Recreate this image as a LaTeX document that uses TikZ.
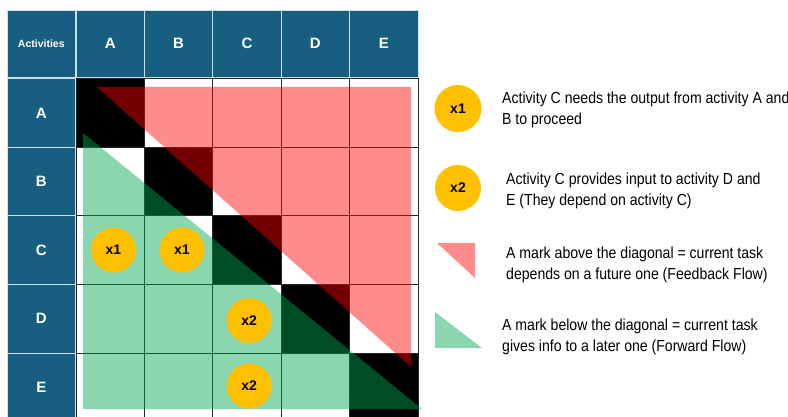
\documentclass[tikz,border=0pt]{standalone}
\usepackage{fontspec}
\setmainfont{Liberation Sans}
\newfontfamily\legendfont{Liberation Sans}[FakeStretch=0.88]
\usepackage{xcolor}

\definecolor{hdrblue}{RGB}{24,94,128}
\definecolor{hdrline}{RGB}{205,222,232}
\definecolor{markgold}{RGB}{255,192,0}
\definecolor{fwdgreen}{RGB}{0,167,80}

\begin{document}
\begin{tikzpicture}[x=1pt,y=-1pt,
	hdr/.style={rectangle, fill=hdrblue, draw=hdrline, line width=0.8pt, minimum width=68.4pt, minimum height=68.6pt, inner sep=0pt, text=white, font=\bfseries\fontsize{15}{15}\selectfont},
	dotmark/.style={circle, fill=markgold, minimum size=45pt, inner sep=0pt, font=\bfseries\fontsize{14}{14}\selectfont},
	legtext/.style={anchor=north west, inner sep=0pt, align=left, font=\legendfont\fontsize{16}{21}\selectfont},
	gridline/.style={line width=0.8pt, black!85}]

			\useasboundingbox (0,0) rectangle (788,417);
			\clip (0,0) rectangle (788,417);
			\fill [white] (0,0) rectangle (788,417);

			% diagonal
			\fill [black] (76,78.5) rectangle (144.4,147.1);
			\fill [black] (144.4,147.1) rectangle (212.8,215.7);
			\fill [black] (212.8,215.7) rectangle (281.2,284.3);
			\fill [black] (281.2,284.3) rectangle (349.6,352.9);
			\fill [black] (349.6,352.9) rectangle (418,421.5);

			\draw [gridline] (76,78.5) to (76,421.5);
			\draw [gridline] (144.4,78.5) to (144.4,421.5);
			\draw [gridline] (212.8,78.5) to (212.8,421.5);
			\draw [gridline] (281.2,78.5) to (281.2,421.5);
			\draw [gridline] (349.6,78.5) to (349.6,421.5);
			\draw [gridline] (418,78.5) to (418,421.5);
			\draw [gridline] (76,78.5) to (418,78.5);
			\draw [gridline] (76,147.1) to (418,147.1);
			\draw [gridline] (76,215.7) to (418,215.7);
			\draw [gridline] (76,284.3) to (418,284.3);
			\draw [gridline] (76,352.9) to (418,352.9);
			\draw [gridline] (76,421.5) to (418,421.5);

			\fill [red, fill opacity=0.45] (97,87) -- (411,87) -- (411,367) -- cycle;
			\fill [fwdgreen, fill opacity=0.46] (83,133) -- (83,409) -- (422,409) -- cycle;

			\node [hdr, minimum height=67pt, font=\bfseries\fontsize{10.5}{10.5}\selectfont] (act) at (41.3,43.5) {Activities};
			\node [hdr, minimum height=67pt] (hA) at (110.2,43.5) {A};
			\node [hdr, minimum height=67pt] (hB) at (178.6,43.5) {B};
			\node [hdr, minimum height=67pt] (hC) at (247,43.5) {C};
			\node [hdr, minimum height=67pt] (hD) at (315.4,43.5) {D};
			\node [hdr, minimum height=67pt] (hE) at (383.8,43.5) {E};

			\node [hdr] (rA) at (41.3,113.2) {A};
			\node [hdr] (rB) at (41.3,181.4) {B};
			\node [hdr] (rC) at (41.3,250) {C};
			\node [hdr] (rD) at (41.3,318.6) {D};
			\node [hdr] (rE) at (41.3,387.2) {E};

			\node [dotmark] (cA) at (113.5,250) {x1};
			\node [dotmark] (cB) at (182,250) {x1};
			\node [dotmark] (dC) at (249.2,320.5) {x2};
			\node [dotmark] (eC) at (249.2,386) {x2};

			% legend
			\node [dotmark, minimum size=47pt] (lx1) at (458,108.5) {x1};
			\node [legtext] (t1) at (502,91.5) {Activity C needs the output from activity A and\\B to proceed};
			\node [dotmark, minimum size=46pt] (lx2) at (458,188) {x2};
			\node [legtext] (t2) at (506,173.2) {Activity C provides input to activity D and\\E (They depend on activity C)};
			\fill [red, fill opacity=0.45] (437,243) -- (475,243) -- (475,278) -- cycle;
			\node [legtext] (t3) at (506,247.2) {A mark above the diagonal = current task\\depends on a future one (Feedback Flow)};
			\fill [fwdgreen, fill opacity=0.46] (435,312) -- (435,348) -- (482,348) -- cycle;
			\node [legtext] (t4) at (502,318.3) {A mark below the diagonal = current task\\gives info to a later one (Forward Flow)};

		\end{tikzpicture}
\end{document}
